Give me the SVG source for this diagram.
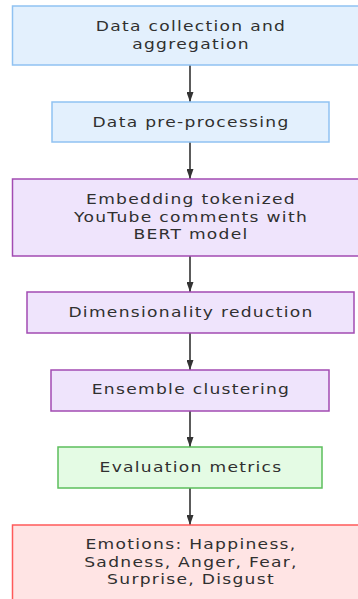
<svg xmlns="http://www.w3.org/2000/svg" width="358" height="599" viewBox="0 0 358 599">
  <style>
    .box { stroke-width: 1.5; }
    .blue { fill: #e3f0fd; stroke: #90c2f2; }
    .purple { fill: #efe4fc; stroke: #a24bb2; }
    .green { fill: #e4fbe4; stroke: #5cbf5c; }
    .red { fill: #ffe4e4; stroke: #ff5a5a; }
    text { font-family: "DejaVu Sans", Verdana, sans-serif; font-size: 14.5px; fill: #303030; text-anchor: middle; letter-spacing: 1.1px; }
    .edge { stroke: #333333; stroke-width: 1.6; fill: none; }
  </style>
  <defs>
    <marker id="arrow" viewBox="0 0 10 7" refX="10" refY="3.5" markerWidth="10" markerHeight="7" markerUnits="userSpaceOnUse" orient="auto">
      <path d="M0,0 L10,3.5 L0,7 Z" fill="#333333"/>
    </marker>
  </defs>
  <rect width="358" height="599" fill="#ffffff"/>

  <g id="connectors">
    <line class="edge" x1="190" y1="65" x2="190" y2="102" marker-end="url(#arrow)"/>
    <line class="edge" x1="190" y1="142" x2="190" y2="179" marker-end="url(#arrow)"/>
    <line class="edge" x1="190" y1="256" x2="190" y2="292" marker-end="url(#arrow)"/>
    <line class="edge" x1="190" y1="333" x2="190" y2="370" marker-end="url(#arrow)"/>
    <line class="edge" x1="190" y1="411" x2="190" y2="447" marker-end="url(#arrow)"/>
    <line class="edge" x1="190" y1="488" x2="190" y2="525" marker-end="url(#arrow)"/>
  </g>

  <g id="collection">
    <rect class="box blue" x="12.5" y="6" width="356" height="59"/>
    <g transform="translate(191,0) scale(1.18,1)">
      <text x="0" y="31.5">Data collection and</text>
      <text x="0" y="49">aggregation</text>
    </g>
  </g>

  <g id="preprocessing">
    <rect class="box blue" x="52" y="102" width="277" height="40"/>
    <g transform="translate(191,0) scale(1.18,1)">
      <text x="0" y="127">Data pre-processing</text>
    </g>
  </g>

  <g id="embedding">
    <rect class="box purple" x="12.5" y="179" width="356" height="77"/>
    <g transform="translate(191,0) scale(1.18,1)">
      <text x="0" y="204.5">Embedding tokenized</text>
      <text x="0" y="222">YouTube comments with</text>
      <text x="0" y="239.5">BERT model</text>
    </g>
  </g>

  <g id="reduction">
    <rect class="box purple" x="27" y="292" width="327" height="41"/>
    <g transform="translate(191,0) scale(1.18,1)">
      <text x="0" y="317.5">Dimensionality reduction</text>
    </g>
  </g>

  <g id="clustering">
    <rect class="box purple" x="51" y="370" width="278" height="41"/>
    <g transform="translate(191,0) scale(1.18,1)">
      <text x="0" y="394.5">Ensemble clustering</text>
    </g>
  </g>

  <g id="metrics">
    <rect class="box green" x="58" y="447" width="264" height="41"/>
    <g transform="translate(191,0) scale(1.18,1)">
      <text x="0" y="472">Evaluation metrics</text>
    </g>
  </g>

  <g id="emotions">
    <rect class="box red" x="12.5" y="525" width="356" height="90"/>
    <g transform="translate(191,0) scale(1.18,1)">
      <text x="0" y="549.5">Emotions: Happiness,</text>
      <text x="0" y="567">Sadness, Anger, Fear,</text>
      <text x="0" y="584.5">Surprise, Disgust</text>
    </g>
  </g>
</svg>
